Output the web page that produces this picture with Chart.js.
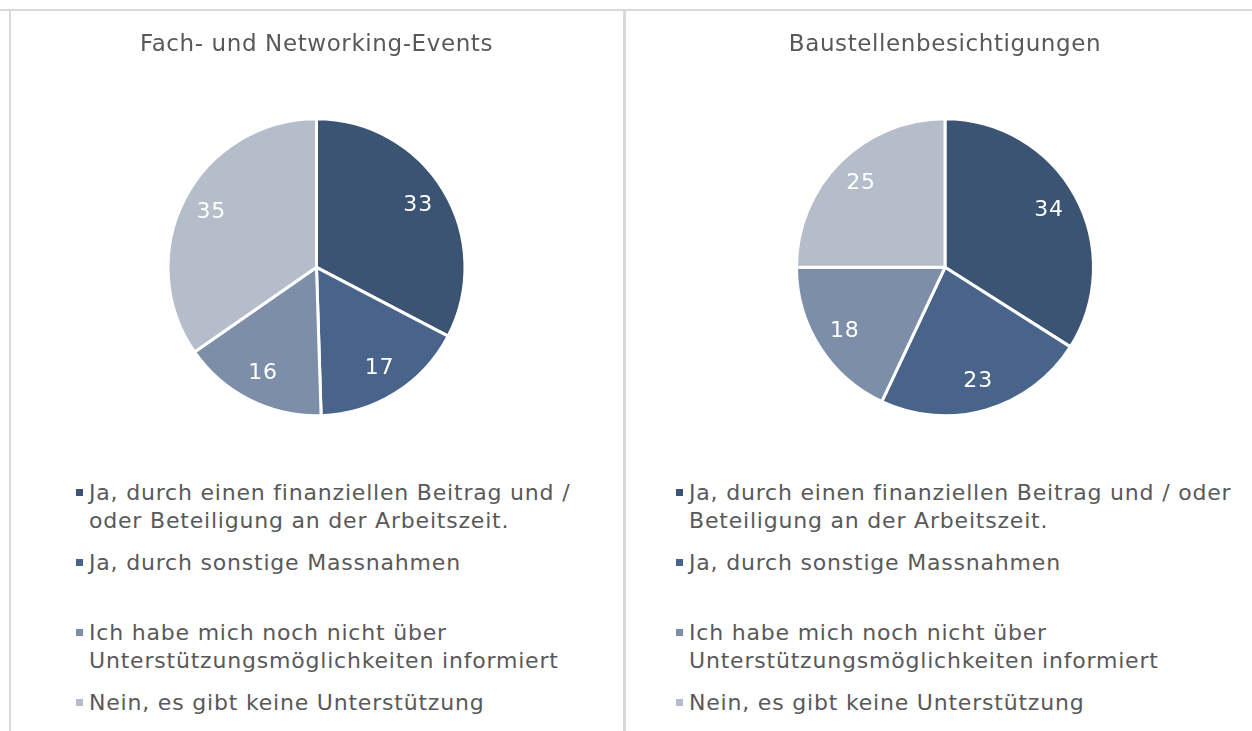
<!DOCTYPE html>
<html><head><meta charset="utf-8">
<script src="https://cdn.jsdelivr.net/npm/chart.js@4.4.0/dist/chart.umd.min.js"></script>
<style>
html,body{margin:0;padding:0;background:#fff;}
body{width:1252px;height:731px;position:relative;overflow:hidden;font-family:"DejaVu Sans",sans-serif;}
.line{position:absolute;background:#d9d9d9;}
.cv{position:absolute;}
.legend{position:absolute;color:#595959;font-size:22px;letter-spacing:0.8px;}
.item{position:relative;height:70px;line-height:28px;padding-left:13px;}
.item .sw{position:absolute;left:0;top:10px;width:7px;height:7px;}
</style></head><body>
<div class="line" style="left:0;top:9px;width:1252px;height:2px"></div>
<div class="line" style="left:9px;top:9px;width:2px;height:722px"></div>
<div class="line" style="left:623px;top:9px;width:3px;height:722px"></div>
<div class="cv" style="left:9px;top:9px;width:615px;height:460px"><canvas id="c1"></canvas></div>
<div class="cv" style="left:640px;top:9px;width:610px;height:460px"><canvas id="c2"></canvas></div>
<div class="legend" id="l1" style="left:76px;top:479px;width:530px"></div>
<div class="legend" id="l2" style="left:676px;top:479px;width:590px"></div>
<script>
const categories = [
  "Ja, durch einen finanziellen Beitrag und / oder Beteiligung an der Arbeitszeit.",
  "Ja, durch sonstige Massnahmen",
  "Ich habe mich noch nicht über Unterstützungsmöglichkeiten informiert",
  "Nein, es gibt keine Unterstützung"
];
const titles = ["Fach- und Networking-Events", "Baustellenbesichtigungen"];
const valuesEvents = [33, 17, 16, 35];
const valuesSites = [34, 23, 18, 25];
const palette = ["#3c5473", "#48648b", "#7d8ea9", "#b5bdcb"];

const FONT = '"DejaVu Sans", sans-serif';

const spacingPlugin = {
  id: 'spacing',
  beforeDraw(chart) { chart.ctx.letterSpacing = '0.6px'; },
  afterDraw(chart) { chart.ctx.letterSpacing = '0px'; }
};

const dataLabels = {
  id: 'dataLabels',
  afterDatasetsDraw(chart) {
    const ctx = chart.ctx;
    const meta = chart.getDatasetMeta(0);
    const vals = chart.data.datasets[0].data;
    ctx.save();
    ctx.letterSpacing = '0.8px';
    ctx.fillStyle = '#ffffff';
    ctx.font = '22px ' + FONT;
    ctx.textAlign = 'center';
    ctx.textBaseline = 'middle';
    meta.data.forEach((arc, i) => {
      const p = arc.getProps(['x', 'y', 'startAngle', 'endAngle', 'outerRadius'], true);
      const a = (p.startAngle + p.endAngle) / 2;
      const r = p.outerRadius * 0.8;
      ctx.fillText(String(vals[i]), p.x + Math.cos(a) * r, p.y + Math.sin(a) * r);
    });
    ctx.restore();
  }
};

function makePie(id, title, values) {
  new Chart(document.getElementById(id), {
    type: 'pie',
    data: {
      labels: categories,
      datasets: [{
        data: values,
        backgroundColor: palette,
        borderColor: '#ffffff',
        borderWidth: 3,
        radius: 148.5
      }]
    },
    options: {
      responsive: true,
      maintainAspectRatio: false,
      animation: false,
      layout: { padding: 0 },
      plugins: {
        legend: { display: false },
        tooltip: { enabled: false },
        title: {
          display: true,
          text: title,
          color: '#595959',
          font: { family: FONT, size: 23, weight: 'normal' },
          padding: { top: 22, bottom: 7 }
        }
      }
    },
    plugins: [spacingPlugin, dataLabels]
  });
}

function makeLegend(id) {
  const el = document.getElementById(id);
  categories.forEach((c, i) => {
    const item = document.createElement('div');
    item.className = 'item';
    const sw = document.createElement('span');
    sw.className = 'sw';
    sw.style.background = palette[i];
    item.appendChild(sw);
    item.appendChild(document.createTextNode(c));
    el.appendChild(item);
  });
}

makePie('c1', titles[0], valuesEvents);
makePie('c2', titles[1], valuesSites);
makeLegend('l1');
makeLegend('l2');
</script>
</body></html>
